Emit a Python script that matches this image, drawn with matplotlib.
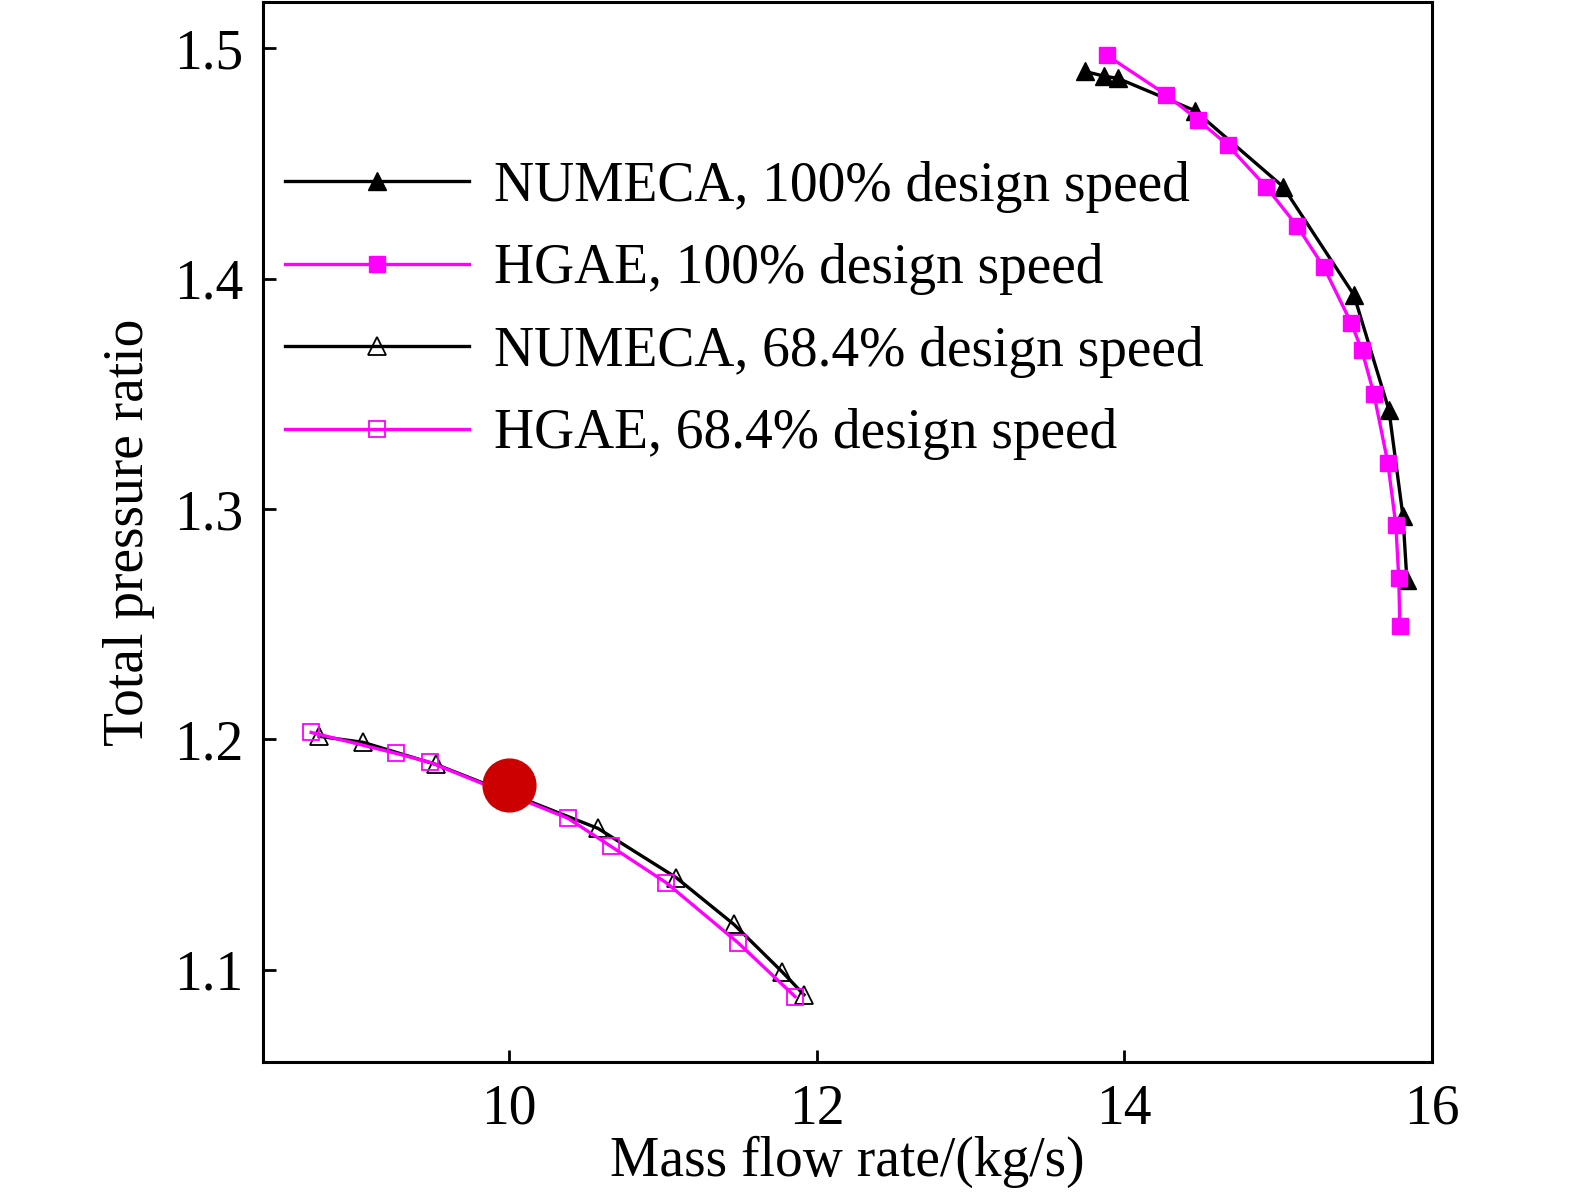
import numpy as np
import matplotlib
matplotlib.use("Agg")
import matplotlib.pyplot as plt

plt.rcParams['font.family'] = ['Liberation Serif', 'DejaVu Serif']
plt.rcParams['font.size'] = 40

# 100% design speed
numeca_100_x = [13.745, 13.869, 13.960, 14.460, 15.033, 15.494, 15.722, 15.813, 15.839]
numeca_100_y = [1.490, 1.488, 1.487, 1.473, 1.440, 1.393, 1.343, 1.297, 1.269]
hgae_100_x = [13.888, 14.272, 14.480, 14.675, 14.922, 15.124, 15.299, 15.475,
              15.546, 15.624, 15.715, 15.767, 15.786, 15.793]
hgae_100_y = [1.497, 1.480, 1.469, 1.458, 1.440, 1.423, 1.405, 1.381,
              1.369, 1.350, 1.320, 1.293, 1.270, 1.249]

# 68.4% design speed
numeca_68_x = [8.765, 9.051, 9.525, 10.579, 11.086, 11.463, 11.775, 11.918]
numeca_68_y = [1.2013, 1.1987, 1.1891, 1.1613, 1.1400, 1.1196, 1.0991, 1.0891]
hgae_68_x = [8.713, 9.265, 9.486, 10.384, 10.663, 11.021, 11.489, 11.860]
hgae_68_y = [1.2030, 1.1939, 1.1900, 1.1657, 1.1535, 1.1378, 1.1117, 1.0883]

# operating point
op_x = [10.0]
op_y = [1.18]

labels = ['NUMECA, 100% design speed', 'HGAE, 100% design speed',
          'NUMECA, 68.4% design speed', 'HGAE, 68.4% design speed']

mag = '#FF00FF'

fig = plt.figure(figsize=(15.75, 11.97), dpi=100)
ax = fig.add_axes([0.167, 0.113, 0.742, 0.885])

ax.plot(numeca_100_x, numeca_100_y, color='black', lw=2.4, marker='^',
        ms=12.5, mfc='black', mec='black', label=labels[0])
ax.plot(hgae_100_x, hgae_100_y, color=mag, lw=2.4, marker='s',
        ms=12, mfc=mag, mec=mag, label=labels[1])
ax.plot(numeca_68_x, numeca_68_y, color='black', lw=2.4, marker='^',
        ms=13.5, mfc='none', mec='black', mew=1.3, label=labels[2])
ax.plot(hgae_68_x, hgae_68_y, color=mag, lw=2.4, marker='s',
        ms=12, mfc='none', mec=mag, mew=1.3, label=labels[3])
ax.plot(op_x, op_y, 'o', color='#CC0000', ms=38, zorder=5)

ax.set_xlim(8.4, 16)
ax.set_ylim(1.06, 1.52)
ax.set_xticks([10, 12, 14, 16])
ax.set_yticks([1.1, 1.2, 1.3, 1.4, 1.5])
ax.set_yticklabels(['1.1', '1.2', '1.3', '1.4', '1.5'])

for s in ax.spines.values():
    s.set_linewidth(2.2)
ax.tick_params(axis='both', direction='in', length=9, width=2, labelsize=40)
ax.tick_params(axis='x', pad=16)
ax.tick_params(axis='y', pad=14)

ax.set_xlabel('Mass flow rate/(kg/s)', fontsize=40, labelpad=0)
ax.set_ylabel('Total pressure ratio', fontsize=40, labelpad=14)

ax.legend(loc='center left', bbox_to_anchor=(0.019, 0.709), frameon=False,
          fontsize=40, handlelength=3.3, handletextpad=0.45, labelspacing=0.55,
          borderpad=0, borderaxespad=0)

fig.savefig('out.png', dpi=100)
